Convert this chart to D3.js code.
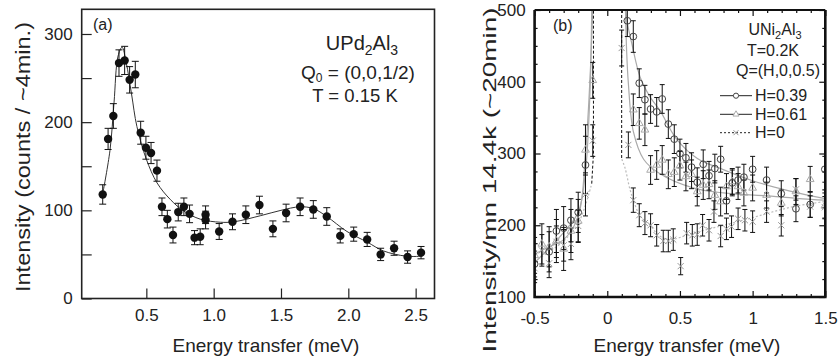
<!DOCTYPE html>
<html>
<head>
<meta charset="utf-8">
<script src="https://cdn.jsdelivr.net/npm/d3@7"></script>
<style>
  body { margin: 0; background: #fff; }
  text { font-family: "Liberation Sans", Arial, sans-serif; fill: #222; }
</style>
</head>
<body>
<div id="container"></div>
<script>
// ---- panel (a): UPd2Al3, [energy, counts, error]
const aPoints = [
  [0.176, 118, 11], [0.216, 181, 12], [0.255, 207, 14], [0.297, 267, 15], [0.339, 270, 16],
  [0.376, 248, 15], [0.418, 254, 15], [0.458, 188, 13], [0.497, 171, 13], [0.535, 165, 12],
  [0.579, 145, 12], [0.616, 104, 10], [0.656, 90, 10], [0.698, 72, 9], [0.737, 98, 10],
  [0.779, 104, 10], [0.821, 96, 10], [0.858, 69, 8], [0.9, 70, 9], [0.94, 95, 10],
  [0.94, 89, 10], [1.041, 76, 9], [1.14, 87, 9], [1.239, 95, 10], [1.34, 106, 10],
  [1.44, 79, 9], [1.538, 97, 10], [1.642, 104, 10], [1.74, 101, 10], [1.84, 93, 10],
  [1.94, 71, 8], [2.04, 73, 8], [2.14, 67, 8], [2.24, 50, 7], [2.34, 57, 8],
  [2.44, 47, 7], [2.54, 52, 7]
];
const aFit = [
  [0.18, 122], [0.23, 168], [0.26, 222], [0.29, 275], [0.32, 285], [0.35, 268], [0.39, 232],
  [0.43, 195], [0.5, 158], [0.58, 131], [0.68, 112], [0.78, 99], [0.9, 90], [1.05, 86.5],
  [1.15, 87], [1.35, 94], [1.5, 100], [1.64, 104], [1.74, 102], [1.84, 93], [1.99, 76],
  [2.14, 64], [2.26, 54], [2.43, 48], [2.55, 48]
];
const aXTicks = [0.5, 1.0, 1.5, 2.0, 2.5];
const aYTicks = [0, 100, 200, 300];
const aYMinor = [50, 150, 250];

// ---- panel (b): UNi2Al3, [energy, intensity, error]
const bH039 = [
  [-0.5, 146, 18], [-0.4, 163, 28], [-0.35, 192, 30], [-0.3, 196, 30], [-0.25, 207, 30],
  [-0.2, 218, 28], [-0.15, 284, 40], [0.138, 485, 22], [0.179, 463, 22], [0.22, 398, 20],
  [0.259, 375, 20], [0.298, 362, 20], [0.34, 358, 20], [0.378, 376, 20], [0.42, 341, 20],
  [0.461, 320, 20], [0.5, 300, 20], [0.541, 294, 20], [0.58, 281, 20], [0.619, 260, 20],
  [0.66, 285, 20], [0.7, 269, 20], [0.74, 279, 20], [0.78, 292, 18], [0.82, 234, 18],
  [0.86, 259, 18], [0.9, 263, 18], [0.94, 267, 18], [1.0, 278, 18], [1.096, 263, 18],
  [1.197, 244, 18], [1.298, 223, 18], [1.396, 229, 18], [1.497, 278, 18]
];
const bH061 = [
  [-0.5, 158, 25], [-0.45, 174, 28], [-0.4, 170, 28], [-0.35, 178, 30], [-0.3, 167, 30],
  [-0.25, 192, 30], [-0.2, 206, 30], [-0.15, 305, 35], [-0.1, 402, 25], [0.179, 361, 22],
  [0.22, 342, 22], [0.259, 333, 22], [0.298, 277, 20], [0.34, 284, 20], [0.378, 291, 20],
  [0.42, 271, 20], [0.461, 274, 20], [0.5, 283, 20], [0.541, 268, 20], [0.58, 271, 20],
  [0.619, 247, 20], [0.66, 256, 20], [0.7, 257, 20], [0.74, 242, 20], [0.78, 233, 20],
  [0.82, 254, 18], [0.86, 261, 18], [0.9, 254, 18], [0.94, 245, 18], [1.0, 252, 18],
  [1.096, 242, 18], [1.197, 231, 18], [1.298, 247, 18], [1.396, 264, 18], [1.497, 227, 18]
];
const bH0 = [
  [-0.5, 140, 20], [-0.45, 165, 22], [-0.4, 147, 20], [-0.35, 177, 22], [-0.3, 172, 22],
  [-0.25, 174, 22], [-0.2, 199, 22], [-0.15, 243, 30], [-0.1, 318, 22], [0.099, 447, 25],
  [0.145, 312, 18], [0.179, 235, 17], [0.22, 214, 16], [0.259, 203, 16], [0.298, 200, 16],
  [0.34, 186, 15], [0.385, 178, 15], [0.42, 178, 15], [0.454, 180, 15], [0.505, 143, 12],
  [0.546, 189, 15], [0.585, 186, 15], [0.619, 187, 15], [0.656, 200, 15], [0.7, 193, 15],
  [0.734, 219, 15], [0.78, 185, 15], [0.82, 195, 15], [0.855, 198, 15], [0.9, 209, 15],
  [0.947, 207, 15], [1.0, 205, 15], [1.096, 219, 15], [1.197, 200, 15], [1.298, 250, 15],
  [1.396, 226, 15], [1.497, 225, 15]
];
// fitted curves
const fit039Left = [[-0.5, 148], [-0.4, 168], [-0.3, 190], [-0.2, 218], [-0.15, 275], [-0.12, 380], [-0.107, 500]];
const fit039Right = [[0.128, 500], [0.14, 480], [0.168, 454], [0.225, 407], [0.294, 379], [0.362, 360], [0.477, 320],
  [0.62, 293], [0.78, 279], [1.0, 262], [1.25, 248], [1.5, 237]];
const fit061Left = [[-0.5, 160], [-0.4, 170], [-0.3, 180], [-0.2, 212], [-0.15, 300], [-0.12, 400], [-0.1, 500]];
const fit061Right = [[0.125, 500], [0.133, 444], [0.145, 398], [0.18, 330], [0.25, 292], [0.36, 272], [0.59, 252],
  [0.8, 245], [1.1, 241], [1.4, 236], [1.5, 235]];
const fit0Left = [[-0.5, 150], [-0.4, 163], [-0.3, 178], [-0.2, 203], [-0.15, 228], [-0.107, 258]];
const fit0Right = [[0.1, 292], [0.122, 280], [0.156, 250], [0.18, 235], [0.225, 213], [0.294, 200], [0.36, 185],
  [0.43, 180], [0.59, 189], [0.935, 207], [1.28, 226], [1.5, 233]];
const fit0Core = [
  [[-0.107, 258], [-0.095, 300], [-0.095, 500]],
  [[0.099, 500], [0.099, 292]]
];
const bXTicks = [-0.5, 0, 0.5, 1, 1.5];
const bXLabels = ['-0.5', '0', '0.5', '1', '1.5'];
const bYTicks = [100, 200, 300, 400, 500];
const legendRows = ['H=0.39', 'H=0.61', 'H=0'];

const svg = d3.select('#container').append('svg').attr('width', 839).attr('height', 364);

// errorbars: vertical line + caps
function errorBars(g, data, x, y, cap) {
  g.append('g')
    .attr('stroke', '#111')
    .attr('stroke-width', 1)
    .attr('fill', 'none')
    .selectAll('path')
    .data(data)
    .join('path')
    .attr('d', (d) => {
      const cx = x(d[0]);
      const y0 = y(d[1] - d[2]);
      const y1 = y(d[1] + d[2]);
      return `M${cx},${y0}V${y1}M${cx - cap},${y0}H${cx + cap}M${cx - cap},${y1}H${cx + cap}`;
    });
}

// ================= panel (a)
const xA = d3.scaleLinear().domain([0.02, 2.64]).range([81.7, 434.5]);
const yA = d3.scaleLinear().domain([0, 328]).range([298.5, 9.3]);

const pa = svg.append('g');
pa.append('g')
  .attr('transform', `translate(0,${yA(0)})`)
  .call(d3.axisBottom(xA).tickValues(aXTicks).tickFormat(d3.format('.1f')).tickSizeInner(-10).tickSizeOuter(0).tickPadding(10))
  .call((g) => g.select('.domain').remove())
  .call((g) => g.selectAll('text').attr('font-size', 17).attr('font-family', null));
pa.append('g')
  .attr('transform', `translate(${xA.range()[0]},0)`)
  .call(d3.axisLeft(yA).tickValues(aYTicks).tickSizeInner(-10).tickSizeOuter(0).tickPadding(9))
  .call((g) => g.select('.domain').remove())
  .call((g) => g.selectAll('text').attr('font-size', 17).attr('font-family', null));
pa.append('g')
  .attr('transform', `translate(${xA.range()[0]},0)`)
  .call(d3.axisLeft(yA).tickValues(aYMinor).tickSizeInner(-10).tickSizeOuter(0).tickFormat(''))
  .call((g) => g.select('.domain').remove());
pa.selectAll('.tick line').attr('stroke', '#222').attr('stroke-width', 1.2);

pa.append('rect')
  .attr('x', xA.range()[0]).attr('y', yA.range()[1])
  .attr('width', xA.range()[1] - xA.range()[0]).attr('height', yA.range()[0] - yA.range()[1])
  .attr('fill', 'none').attr('stroke', '#222').attr('stroke-width', 1.6);

pa.append('path')
  .datum(aFit)
  .attr('fill', 'none').attr('stroke', '#333').attr('stroke-width', 1)
  .attr('d', d3.line().x((d) => xA(d[0])).y((d) => yA(d[1])).curve(d3.curveCatmullRom));
errorBars(pa, aPoints, xA, yA, 3.5);
pa.append('g').selectAll('circle').data(aPoints).join('circle')
  .attr('cx', (d) => xA(d[0])).attr('cy', (d) => yA(d[1])).attr('r', 4.2).attr('fill', '#111');

pa.append('text').attr('x', 93).attr('y', 30).attr('font-size', 16).text('(a)');
const ta = pa.append('g').attr('text-anchor', 'middle');
const t1 = ta.append('text').attr('x', 362).attr('y', 50).attr('font-size', 20);
t1.append('tspan').text('UPd');
t1.append('tspan').attr('font-size', 14).attr('dy', 5).text('2');
t1.append('tspan').attr('dy', -5).text('Al');
t1.append('tspan').attr('font-size', 14).attr('dy', 5).text('3');
const t2 = ta.append('text').attr('x', 358).attr('y', 79).attr('font-size', 19);
t2.append('tspan').text('Q');
t2.append('tspan').attr('font-size', 12).attr('dy', 3).text('0');
t2.append('tspan').attr('dy', -3).text(' = (0,0,1/2)');
ta.append('text').attr('x', 355).attr('y', 102).attr('font-size', 18.5).text('T = 0.15 K');

pa.append('text')
  .attr('transform', `translate(30,157) rotate(-90)`)
  .attr('text-anchor', 'middle').attr('font-size', 21)
  .attr('textLength', 270).attr('lengthAdjust', 'spacingAndGlyphs')
  .text('Intensity (counts / ~4min.)');
pa.append('text').attr('x', 266).attr('y', 352).attr('text-anchor', 'middle').attr('font-size', 19)
  .text('Energy transfer (meV)');

// ================= panel (b)
const xB = d3.scaleLinear().domain([-0.5, 1.5]).range([534.6, 825.3]);
const yB = d3.scaleLinear().domain([100, 500]).range([297, 10]);
const [bx0, bx1] = xB.range();
const [by0, by1] = yB.range();

const pb = svg.append('g');
svg.append('defs').append('clipPath').attr('id', 'clipB')
  .append('rect').attr('x', bx0).attr('y', by1).attr('width', bx1 - bx0).attr('height', by0 - by1);

const xMinor = d3.range(-0.4, 1.5, 0.1).filter((v) => Math.abs(v * 2 - Math.round(v * 2)) > 1e-6);
const yMinor = d3.range(125, 500, 25).filter((v) => v % 100 !== 0);

// ticks on all four sides
const tickG = pb.append('g').attr('class', 'ticks');
tickG.append('g').attr('transform', `translate(0,${by0})`)
  .call(d3.axisBottom(xB).tickValues(bXTicks).tickFormat((d, i) => bXLabels[i]).tickSizeInner(-6).tickSizeOuter(0).tickPadding(15))
  .call((g) => g.selectAll('text').attr('font-size', 17).attr('font-family', null));
tickG.append('g').attr('transform', `translate(0,${by0})`)
  .call(d3.axisBottom(xB).tickValues(xMinor).tickFormat('').tickSizeInner(-3).tickSizeOuter(0));
tickG.append('g').attr('transform', `translate(0,${by1})`)
  .call(d3.axisTop(xB).tickValues(bXTicks).tickFormat('').tickSizeInner(-6).tickSizeOuter(0));
tickG.append('g').attr('transform', `translate(0,${by1})`)
  .call(d3.axisTop(xB).tickValues(xMinor).tickFormat('').tickSizeInner(-3).tickSizeOuter(0));
tickG.append('g').attr('transform', `translate(${bx0},0)`)
  .call(d3.axisLeft(yB).tickValues(bYTicks).tickSizeInner(-6).tickSizeOuter(0).tickPadding(9))
  .call((g) => g.selectAll('text').attr('font-size', 17).attr('font-family', null));
tickG.append('g').attr('transform', `translate(${bx0},0)`)
  .call(d3.axisLeft(yB).tickValues(yMinor).tickFormat('').tickSizeInner(-3).tickSizeOuter(0));
tickG.append('g').attr('transform', `translate(${bx1},0)`)
  .call(d3.axisRight(yB).tickValues(bYTicks).tickFormat('').tickSizeInner(-6).tickSizeOuter(0));
tickG.append('g').attr('transform', `translate(${bx1},0)`)
  .call(d3.axisRight(yB).tickValues(yMinor).tickFormat('').tickSizeInner(-3).tickSizeOuter(0));
tickG.selectAll('.domain').remove();
tickG.selectAll('.tick line').attr('stroke', '#111').attr('stroke-width', 1.2);

const plotB = pb.append('g').attr('clip-path', 'url(#clipB)');
const lineBStraight = d3.line().x((d) => xB(d[0])).y((d) => yB(d[1]));

// fitted lines
[fit039Left, fit039Right, fit061Left, fit061Right].forEach((f) => {
  plotB.append('path').datum(f)
    .attr('fill', 'none').attr('stroke', '#aaa').attr('stroke-width', 1.2)
    .attr('d', lineBStraight.curve(d3.curveCatmullRom));
});
[fit0Left, fit0Right].forEach((f) => {
  plotB.append('path').datum(f)
    .attr('fill', 'none').attr('stroke', '#bbb').attr('stroke-width', 1.2).attr('stroke-dasharray', '2,2')
    .attr('d', lineBStraight.curve(d3.curveCatmullRom));
});
fit0Core.forEach((f) => {
  plotB.append('path').datum(f)
    .attr('fill', 'none').attr('stroke', '#111').attr('stroke-width', 1).attr('stroke-dasharray', '3,2')
    .attr('d', d3.line().x((d) => xB(d[0])).y((d) => yB(d[1])));
});

// data
errorBars(plotB, bH0, xB, yB, 2.5);
errorBars(plotB, bH061, xB, yB, 2.5);
errorBars(plotB, bH039, xB, yB, 2.5);

const triangle = d3.symbol(d3.symbolTriangle, 26);
const cross = d3.symbol(d3.symbolX, 26);
plotB.append('g').selectAll('path').data(bH0).join('path')
  .attr('transform', (d) => `translate(${xB(d[0])},${yB(d[1])})`)
  .attr('d', cross).attr('fill', 'none').attr('stroke', '#999').attr('stroke-width', 1);
plotB.append('g').selectAll('path').data(bH061).join('path')
  .attr('transform', (d) => `translate(${xB(d[0])},${yB(d[1])})`)
  .attr('d', triangle).attr('fill', 'none').attr('stroke', '#aaa').attr('stroke-width', 1);
plotB.append('g').selectAll('circle').data(bH039).join('circle')
  .attr('cx', (d) => xB(d[0])).attr('cy', (d) => yB(d[1])).attr('r', 3.4)
  .attr('fill', 'none').attr('stroke', '#444').attr('stroke-width', 1);

// frame: thick left, bottom, right
pb.append('path')
  .attr('d', `M${bx0},${by1}V${by0}H${bx1}V${by1}`)
  .attr('fill', 'none').attr('stroke', '#111').attr('stroke-width', 2.6);
pb.append('path')
  .attr('d', `M${bx0},${by1}H${bx1}`)
  .attr('fill', 'none').attr('stroke', '#111').attr('stroke-width', 2);

// labels
pb.append('text').attr('x', 553).attr('y', 31).attr('font-size', 16).text('(b)');
const tb = pb.append('g').attr('text-anchor', 'middle');
const u1 = tb.append('text').attr('x', 775).attr('y', 35).attr('font-size', 16);
u1.append('tspan').text('UNi');
u1.append('tspan').attr('font-size', 11).attr('dy', 4).text('2');
u1.append('tspan').attr('dy', -4).text('Al');
u1.append('tspan').attr('font-size', 11).attr('dy', 4).text('3');
tb.append('text').attr('x', 773).attr('y', 56).attr('font-size', 16).text('T=0.2K');
tb.append('text').attr('x', 778).attr('y', 76).attr('font-size', 16).text('Q=(H,0,0.5)');

const legend = pb.append('g');
const rowY = [95.7, 114.3, 132.7];
legendRows.forEach((label, i) => {
  const row = legend.append('g').attr('transform', `translate(0,${rowY[i]})`);
  row.append('line').attr('x1', 720).attr('x2', 752).attr('y1', 0).attr('y2', 0)
    .attr('stroke', '#222').attr('stroke-width', 1)
    .attr('stroke-dasharray', i === 2 ? '2,2' : null);
  if (i === 0) {
    row.append('circle').attr('cx', 736).attr('cy', 0).attr('r', 2.6)
      .attr('fill', '#fff').attr('stroke', '#444');
  } else if (i === 1) {
    row.append('path').attr('transform', 'translate(736,0)').attr('d', d3.symbol(d3.symbolTriangle, 16))
      .attr('fill', '#fff').attr('stroke', '#aaa');
  } else {
    row.append('path').attr('transform', 'translate(736,0)').attr('d', d3.symbol(d3.symbolX, 18))
      .attr('fill', 'none').attr('stroke', '#999');
  }
  row.append('text').attr('x', 755).attr('dy', '0.36em').attr('font-size', 16).text(label);
});

pb.append('text')
  .attr('transform', `translate(496,180) rotate(-90)`)
  .attr('text-anchor', 'middle').attr('font-size', 18)
  .attr('textLength', 345).attr('lengthAdjust', 'spacingAndGlyphs')
  .text('Intensity/mn 14.4k (~20min)');
pb.append('text').attr('x', 687).attr('y', 352).attr('text-anchor', 'middle').attr('font-size', 19)
  .text('Energy transfer (meV)');
</script>
</body>
</html>
